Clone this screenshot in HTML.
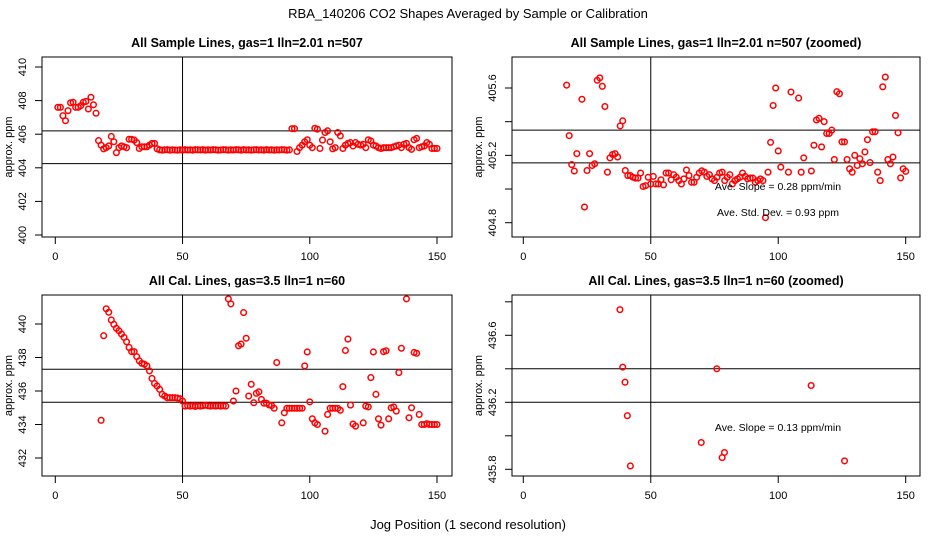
<!DOCTYPE html>
<html><head><meta charset="utf-8"><style>
html,body{margin:0;padding:0;background:#fff;}
svg{display:block;font-family:"Liberation Sans",sans-serif;}
</style></head><body>
<svg id="chart" width="936" height="540" viewBox="0 0 936 540">
<rect width="936" height="540" fill="#fff"/>
<text x="468" y="18" text-anchor="middle" font-size="13">RBA_140206  CO2 Shapes Averaged by Sample or Calibration</text>
<text x="468" y="529" text-anchor="middle" font-size="13">Jog Position (1 second resolution)</text>
<g id="panels"></g>
</svg>
<script>
// Panel 1: All Sample Lines (x = 1..150)
const p1Y = [407.6,407.6,407.1,406.8,407.4,407.87,407.9,407.6,407.6,407.7,407.9,407.95,407.5,408.2,407.75,407.25,
405.62,405.35,405.13,405.2,405.3,405.87,405.55,404.9,405.2,405.3,405.25,405.2,405.7,405.7,405.65,405.5,405.15,405.25,405.25,405.25,405.35,405.45,405.45,405.13,
405.07,405.05,405.07,405.08,405.05,405.07,405.06,405.05,405.07,405.05,405.08,405.06,405.07,405.05,405.08,405.07,405.06,405.08,405.05,405.07,
405.06,405.08,405.07,405.05,405.06,405.08,405.07,405.05,405.07,405.06,405.08,405.07,405.05,405.08,405.06,405.07,405.05,405.07,405.08,405.06,
405.07,405.05,405.08,405.06,405.07,405.05,405.07,405.06,405.08,405.07,405.05,405.07,
406.33,406.33,404.97,405.2,405.35,405.55,405.67,405.35,405.2,406.35,406.3,405.15,405.65,406.1,406.2,405.55,405.13,405.2,406.1,405.9,405.15,405.35,405.45,405.5,
405.3,405.5,405.4,405.35,405.4,405.2,405.67,405.6,405.35,405.3,405.2,405.15,405.2,405.2,405.2,405.2,405.25,405.3,405.35,405.2,405.4,405.45,405.2,405.1,405.67,405.75,
405.2,405.25,405.3,405.5,405.4,405.15,405.15,405.15];
// Panel 2: zoomed sample lines
const p2X = [17,18,19,20,21,23,24,25,26,27,28,29,30,31,32,33,34,35,36,37,38,39,40,41,42,43,44,45,46,47,48,49,50,51,52,53,54,55,56,57,58,59,60,61,62,63,64,65,66,67,68,69,70,71,72,73,74,75,76,77,78,79,80,81,82,83,84,85,86,87,88,89,90,91,92,93,94,95,96,97,98,99,100,101,104,105,108,109,110,113,114,115,116,117,118,119,120,121,122,123,124,125,126,127,128,129,130,131,132,133,134,135,136,137,138,139,140,141,142,143,144,145,146,147,148,149,150];
const p2Y = [405.617,405.317,405.145,405.107,405.21,405.533,404.893,405.11,405.21,405.14,405.15,405.646,405.66,405.61,405.49,405.1,405.185,405.205,405.21,405.19,405.375,405.405,405.11,405.08,405.08,405.07,405.065,405.065,405.095,405.015,405.02,405.07,405.03,405.075,405.03,405.03,405.055,405.025,405.095,405.095,405.055,405.085,405.07,405.05,405.03,405.06,405.113,405.08,405.04,405.04,405.07,405.095,405.108,405.1,405.075,405.085,405.06,405.05,405.07,405.095,405.1,405.05,405.07,405.085,405.03,405.05,405.06,405.07,405.095,405.075,405.06,405.065,405.065,405.04,405.05,405.06,405.05,404.83,405.1,405.277,405.496,405.6,405.226,405.13,405.1,405.576,405.54,405.1,405.185,405.107,405.26,405.41,405.42,405.25,405.4,405.33,405.33,405.35,405.175,405.578,405.566,405.28,405.28,405.175,405.12,405.1,405.2,405.14,405.18,405.15,405.22,405.293,405.157,405.34,405.34,405.1,405.05,405.607,405.665,405.175,405.15,405.19,405.437,405.334,405.066,405.12,405.105];
// Panel 3: All Cal. Lines
const p3X = [18,19,20,21,22,23,24,25,26,27,28,29,30,31,32,33,34,35,36,37,38,39,40,41,42,43,44,45,46,47,48,49,50,51,52,53,54,55,56,57,58,59,60,61,62,63,64,65,66,67,68,69,70,71,72,73,74,75,76,77,78,79,80,81,82,83,84,85,86,87,89,90,91,92,93,94,95,96,97,98,99,100,101,102,103,106,107,108,109,110,111,112,113,114,115,116,117,118,121,122,123,124,125,126,127,128,129,130,131,132,133,134,135,136,138,139,140,141,142,143,144,145,146,147,148,149,150];
const p3Y = [434.25,439.3,440.91,440.7,440.24,439.98,439.74,439.6,439.4,439.2,438.94,438.6,438.35,438.35,438.05,437.8,437.65,437.6,437.5,437.2,436.75,436.45,436.3,436.1,435.8,435.7,435.6,435.6,435.6,435.6,435.58,435.54,435.4,435.1,435.12,435.1,435.12,435.08,435.12,435.1,435.12,435.15,435.12,435.1,435.12,435.1,435.12,435.1,435.12,435.1,441.5,441.2,435.4,436.0,438.7,438.8,440.68,439.15,435.7,436.4,435.3,435.86,435.95,435.5,435.27,435.27,435.17,435.13,434.97,437.7,434.1,434.7,434.97,434.97,434.97,434.97,434.97,434.97,434.97,437.5,438.33,435.35,434.34,434.1,434.0,433.6,434.6,434.97,434.97,434.97,434.97,434.85,436.26,438.42,439.1,435.16,434.03,433.9,434.1,435.1,435.05,436.8,438.33,435.8,434.34,433.96,438.35,438.4,434.34,435.0,435.05,434.8,437.1,438.55,441.5,434.4,435.0,438.3,438.25,434.6,434.0,434.0,434.05,434.0,434.0,434.0,434.0];
// Panel 4: zoomed cal lines
const p4X = [37.9,39,39.9,40.8,42,69.8,75.9,78,78.9,112.9,126];
const p4Y = [436.753,436.41,436.32,436.12,435.82,435.96,436.4,435.87,435.9,436.3,435.85];
const xTicks = [0,50,100,150];
const p1Ticks = [400,402,404,406,408,410];
const p2Ticks = [404.8,405,405.2,405.4,405.6];
const p2Labels = [404.8,405.2,405.6];
const p3Ticks = [432,434,436,438,440];
const p4Ticks = [435.8,436,436.2,436.4,436.6,436.8];
const p4Labels = [435.8,436.2,436.6];

const NS="http://www.w3.org/2000/svg";
const root=document.getElementById('panels');
function mk(tag,attrs,parent){const e=document.createElementNS(NS,tag);for(const k in attrs)e.setAttribute(k,attrs[k]);(parent||root).appendChild(e);return e;}
function lin(d0,d1,r0,r1){return v=>r0+(v-d0)*(r1-r0)/(d1-d0);}

const panels=[
 {id:'p1',title:'All Sample Lines, gas=1 lln=2.01 n=507',L:42,R:452,T:57,B:237,xs:lin(0,150,55.3,437),ys:lin(400,410,235,67),
  X:p1Y.map((v,i)=>i+1),Y:p1Y,ticks:p1Ticks,labels:p1Ticks,h:[406.2,404.25],notes:[]},
 {id:'p2',title:'All Sample Lines, gas=1 lln=2.01 n=507 (zoomed)',L:512,R:920,T:57,B:237,xs:lin(0,150,523.3,905.7),ys:lin(404.8,405.6,222.7,88),
  X:p2X,Y:p2Y,ticks:p2Ticks,labels:p2Labels,h:[405.35,405.155],notes:[['Ave. Slope =  0.28  ppm/min',190],['Ave. Std. Dev. =  0.93  ppm',216]]},
 {id:'p3',title:'All Cal. Lines, gas=3.5 lln=1 n=60',L:42,R:452,T:295,B:476,xs:lin(0,150,55.3,437),ys:lin(432,440,458,324),
  X:p3X,Y:p3Y,ticks:p3Ticks,labels:p3Ticks,h:[437.3,435.33],notes:[]},
 {id:'p4',title:'All Cal. Lines, gas=3.5 lln=1 n=60 (zoomed)',L:512,R:920,T:295,B:476,xs:lin(0,150,523.3,905.7),ys:lin(435.8,436.6,469.3,335.3),
  X:p4X,Y:p4Y,ticks:p4Ticks,labels:p4Labels,h:[436.4,436.2],notes:[['Ave. Slope =  0.13  ppm/min',431]]}
];

panels.forEach(p=>{
 const g=mk('g',{});
 
 
 const cx=(p.L+p.R)/2;
 const t=mk('text',{x:cx,y:p.T-10,'text-anchor':'middle','font-size':'12.5','font-weight':'bold'},g);
 t.textContent=p.title;
 
 
 const cp=mk('clipPath',{id:'clip-'+p.id},g);
 mk('rect',{x:p.L,y:p.T,width:p.R-p.L,height:p.B-p.T},cp);
 p.h.forEach(v=>{const l=mk('line',{x1:p.L,x2:p.R,y1:p.ys(v),y2:p.ys(v),stroke:'#000','stroke-width':1},g);
  
  });
 const vl=mk('line',{x1:p.xs(50),x2:p.xs(50),y1:p.T,y2:p.B,stroke:'#000','stroke-width':1},g);
 
 
 const pg=mk('g',{'clip-path':'url(#clip-'+p.id+')'},g);
 p.X.forEach((x,i)=>{const c=mk('circle',{cx:p.xs(x),cy:p.ys(p.Y[i]),r:2.8,fill:'none',stroke:'#f00','stroke-width':1.5},pg);
  
  });
 const bx=mk('rect',{x:p.L,y:p.T,width:p.R-p.L,height:p.B-p.T,fill:'none',stroke:'#000','stroke-width':1},g);
 
 
 xTicks.forEach(v=>{const x=p.xs(v);mk('line',{x1:x,x2:x,y1:p.B,y2:p.B+7,stroke:'#000'},g);
  const tl=mk('text',{x:x,y:p.B+23,'text-anchor':'middle','font-size':'11'},g);tl.textContent=v;
  
  });
 p.ticks.forEach(v=>{const y=p.ys(v);mk('line',{x1:p.L-7,x2:p.L,y1:y,y2:y,stroke:'#000'},g);});
 p.labels.forEach(v=>{const y=p.ys(v);const lx=p.L-16;
  const tl=mk('text',{x:lx,y:y,'text-anchor':'middle','font-size':'11',transform:'rotate(-90 '+lx+' '+y+')'},g);
  tl.textContent=String(v);
  
  });
 const ax=p.L-30, ay=(p.T+p.B)/2;
 const yt=mk('text',{x:ax,y:ay,'text-anchor':'middle','font-size':'11',transform:'rotate(-90 '+ax+' '+ay+')'},g);
 yt.textContent='approx. ppm';
 
 
 p.notes.forEach(n=>{const nt=mk('text',{x:778,y:n[1],'text-anchor':'middle','font-size':'10.5'},g);nt.textContent=n[0];
  
  });
});
</script>
</body></html>
